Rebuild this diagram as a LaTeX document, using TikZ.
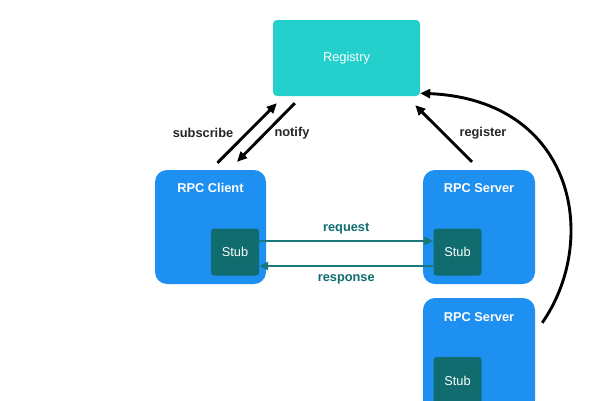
\documentclass[tikz,border=0pt]{standalone}
\usepackage{fontspec}
\setmainfont{Liberation Sans}
\usepackage{xcolor}
\usepackage{tikz}
\usetikzlibrary{positioning,calc,arrows.meta}

\definecolor{regcyan}{RGB}{36,208,204}
\definecolor{rpcblue}{RGB}{30,144,242}
\definecolor{stubteal}{RGB}{16,108,110}
\definecolor{linkteal}{RGB}{24,120,122}

\begin{document}
\begin{tikzpicture}[x=1pt,y=-1pt,
        every node/.style={font=\fontsize{12.8}{15}\selectfont},
        regbox/.style={fill=regcyan, rounded corners=4pt, minimum width=147pt, minimum height=76pt, text=white},
        rpcbox/.style={fill=rpcblue, rounded corners=12pt, minimum width=112pt, minimum height=114pt},
        stubbox/.style={fill=stubteal, rounded corners=3pt, minimum width=48pt, minimum height=47pt, text=white},
        title/.style={text=white, font=\fontsize{12.8}{15}\selectfont\bfseries},
        lbl/.style={text=black!85, font=\fontsize{12.8}{15}\selectfont\bfseries},
        call/.style={-{Triangle[length=10pt,width=9pt]}, line width=2.9pt, black},
        link/.style={-{Triangle[length=9pt,width=8pt]}, line width=2.9pt, linkteal}]
        \clip (0,0) rectangle (600,400);
        \fill[white] (0,0) rectangle (600,400);

        % Registry
        \node[regbox] (registry) at (346.5,58) {Registry};

        % Client and servers
        \node[rpcbox, minimum width=111pt] (client) at (210.5,227) {};
        \node[rpcbox] (server) at (479,227) {};
        \node[rpcbox] (server2) at (479,355) {};
        \node[title] (ctitle) at (210.5,188) {RPC Client};
        \node[title] (stitle) at (479,188) {RPC Server};
        \node[title] (s2title) at (479,317) {RPC Server};

        % Stubs
        \node[stubbox] (cstub) at (235,252) {Stub};
        \node[stubbox] (sstub) at (457.5,252) {Stub};
        \node[stubbox] (s2stub) at (457.5,380.5) {Stub};

        % Subscribe / notify / register
        \draw[call] ([xshift=7pt,yshift=7pt]client.north) -- ([xshift=4pt,yshift=-7pt]registry.south west);
        \draw[call] ([xshift=22pt,yshift=-7pt]registry.south west) -- ([xshift=26.5pt,yshift=8pt]client.north);
        \draw[call] ([xshift=-7pt,yshift=8pt]server.north) -- ([xshift=-5pt,yshift=-9pt]registry.south east);
        \draw[call] ([xshift=7pt,yshift=-25pt]server2.north east) .. controls (600,240) and (575,100) .. ([yshift=3pt]registry.south east);
        \node[lbl] (subscribe) at (203,133) {subscribe};
        \node[lbl] (notify) at (292,133) {notify};
        \node[lbl] (register) at (483,133) {register};

        % Request / response
        \draw[link] ([yshift=11pt]cstub.east) -- node[above=2pt, lbl, text=stubteal] (request) {request} ([yshift=11pt]sstub.west);
        \draw[link] ([yshift=-14pt]sstub.west) -- node[below=4pt, lbl, text=stubteal] (response) {response} ([yshift=-14pt]cstub.east);
    \end{tikzpicture}
\end{document}
